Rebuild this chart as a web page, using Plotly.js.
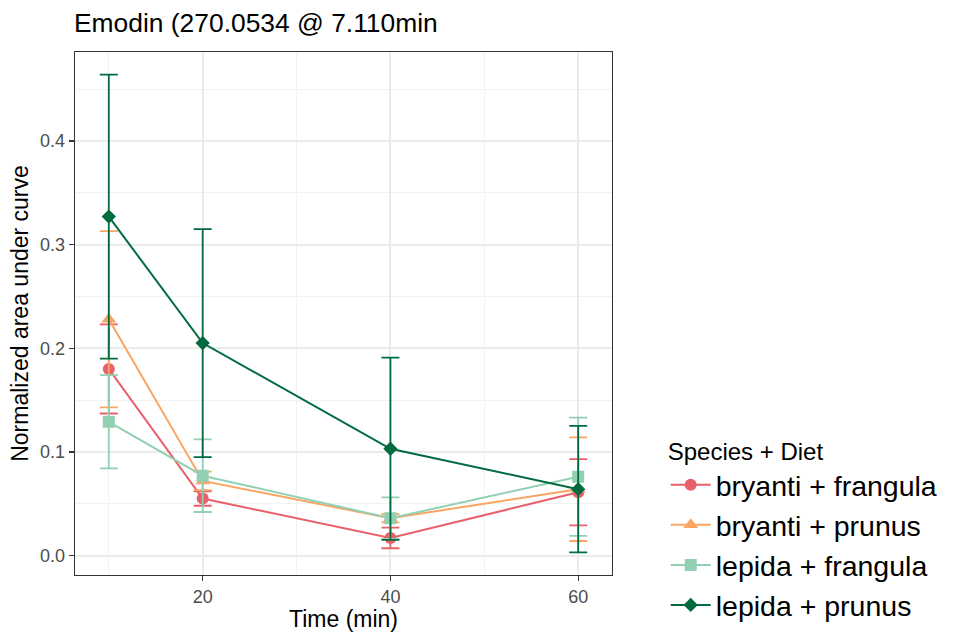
<!DOCTYPE html>
<html>
<head>
<meta charset="utf-8">
<script src="https://cdn.plot.ly/plotly-3.0.1.min.js"></script>
<style>html,body{margin:0;padding:0;background:#fff;}#chart{width:961px;height:632px;}</style>
</head>
<body>
<div id="chart"></div>
<script>
const time = [10, 20, 40, 60];
const seriesNames = ["bryanti + frangula", "bryanti + prunus", "lepida + frangula", "lepida + prunus"];
const bryantiFrangulaMean = [0.180, 0.055, 0.017, 0.061];
const bryantiFrangulaSd   = [0.043, 0.007, 0.010, 0.032];
const bryantiPrunusMean   = [0.228, 0.072, 0.036, 0.064];
const bryantiPrunusSd     = [0.085, 0.009, 0.004, 0.050];
const lepidaFrangulaMean  = [0.129, 0.077, 0.036, 0.076];
const lepidaFrangulaSd    = [0.045, 0.035, 0.020, 0.057];
const lepidaPrunusMean    = [0.327, 0.205, 0.103, 0.064];
const lepidaPrunusSd      = [0.137, 0.110, 0.088, 0.061];

const colors = ["#E8606A", "#FBA562", "#91D0B3", "#006B3F"];
const symbols = ["circle", "triangle-up", "square", "diamond"];
const msizes = [12, 13, 12, 11];
const means = [bryantiFrangulaMean, bryantiPrunusMean, lepidaFrangulaMean, lepidaPrunusMean];
const sds = [bryantiFrangulaSd, bryantiPrunusSd, lepidaFrangulaSd, lepidaPrunusSd];

const FONT = "Liberation Sans, Arial, Helvetica, sans-serif";

const traces = seriesNames.map((name, i) => ({
  type: "scatter",
  mode: "lines+markers",
  name: name,
  x: time,
  y: means[i],
  line: {color: colors[i], width: 2},
  marker: {color: colors[i], symbol: symbols[i], size: msizes[i]},
  error_y: {type: "data", array: sds[i], visible: true, color: colors[i], thickness: 1.8, width: 9}
}));

const layout = {
  width: 961, height: 632,
  paper_bgcolor: "#ffffff", plot_bgcolor: "#ffffff",
  margin: {l: 75, r: 349, t: 52, b: 57, pad: 0, autoexpand: false},
  font: {family: FONT, color: "#000"},
  title: {text: "Emodin (270.0534 @ 7.110min", font: {size: 26.4, color: "#000", family: FONT},
          x: 74/961, xanchor: "left", xref: "container", y: 1 - 14/632, yanchor: "top", yref: "container"},
  xaxis: {
    automargin: false,
    range: [6.4, 63.6], tick0: 0, dtick: 20, ticks: "outside", ticklen: 5, tickwidth: 1.3, tickcolor: "#333",
    tickfont: {size: 18, color: "#4D4D4D"},
    showgrid: true, gridcolor: "#EBEBEB", gridwidth: 2, zeroline: false,
    minor: {tick0: 0, dtick: 10, showgrid: true, gridcolor: "#F2F2F2", gridwidth: 1, ticks: ""},
    showline: true, linecolor: "#333", linewidth: 1.3, mirror: true,
    title: {text: "Time (min)", font: {size: 23, color: "#000"}, standoff: 4}
  },
  yaxis: {
    automargin: false,
    range: [-0.0188, 0.4858], tick0: 0, dtick: 0.1, tickformat: ".1f", ticks: "outside", ticklen: 5, tickwidth: 1.3, tickcolor: "#333",
    tickfont: {size: 18, color: "#4D4D4D"},
    showgrid: true, gridcolor: "#EBEBEB", gridwidth: 2, zeroline: false,
    minor: {tick0: 0, dtick: 0.05, showgrid: true, gridcolor: "#F2F2F2", gridwidth: 1, ticks: ""},
    showline: true, linecolor: "#333", linewidth: 1.3, mirror: true,
    title: {text: "Normalized area under curve", font: {size: 23, color: "#000"}, standoff: 5}
  },
  showlegend: true,
  legend: {
    x: 1.1, xanchor: "left", y: 0.28, yanchor: "top",
    font: {size: 28.5, color: "#000"},
    title: {text: "Species + Diet", font: {size: 24, color: "#000"}},
    itemwidth: 40, tracegroupgap: 0, bgcolor: "rgba(0,0,0,0)"
  }
};

Plotly.newPlot("chart", traces, layout, {displayModeBar: false, staticPlot: true});
</script>
</body>
</html>
